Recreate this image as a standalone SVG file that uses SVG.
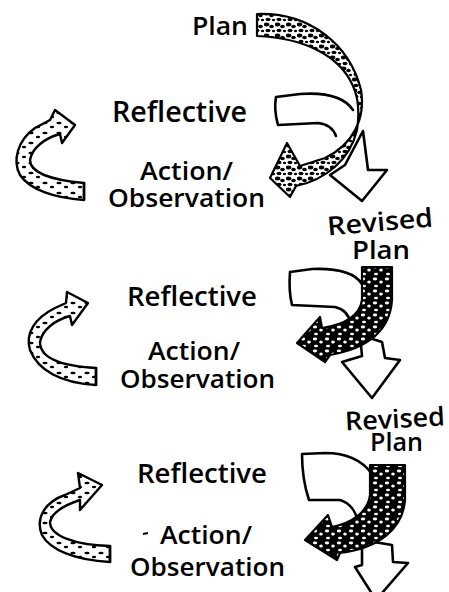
<svg xmlns="http://www.w3.org/2000/svg" width="449" height="592" viewBox="0 0 449 592">
<defs>
<pattern id="tex" patternUnits="userSpaceOnUse" width="11" height="11">
<rect width="11" height="11" fill="#fff"/>
<ellipse cx="2.5" cy="2.5" rx="2.8" ry="1.9" fill="#000"/>
<ellipse cx="7.5" cy="4.5" rx="2.3" ry="1.8" fill="#000"/>
<ellipse cx="4" cy="8.5" rx="2.5" ry="1.8" fill="#000"/>
<ellipse cx="9.5" cy="9" rx="1.6" ry="1.3" fill="#000"/>
</pattern>
<pattern id="texd" patternUnits="userSpaceOnUse" width="12" height="12">
<rect width="12" height="12" fill="#000"/>
<ellipse cx="3" cy="3" rx="2.2" ry="1.4" fill="#fff"/>
<ellipse cx="9" cy="6" rx="1.8" ry="1.6" fill="#fff"/>
<ellipse cx="4" cy="10" rx="2" ry="1.2" fill="#fff"/>
</pattern>
<pattern id="texl" patternUnits="userSpaceOnUse" width="14" height="10">
<rect width="14" height="10" fill="#fff"/>
<ellipse cx="3" cy="3" rx="2.6" ry="1.3" fill="#000"/>
<ellipse cx="10" cy="7" rx="2.2" ry="1.2" fill="#000"/>
</pattern>
<style>
.lbl{font-family:"Open Sans","DejaVu Sans",sans-serif;font-weight:600;fill:#000}
.wht{fill:#fff;stroke:#000;stroke-width:2.6;stroke-linejoin:round;stroke-linecap:round}
.open{fill:#fff;stroke:#000;stroke-width:2.6;stroke-linejoin:round;stroke-linecap:round}
.rib{fill:url(#tex);stroke:#000;stroke-width:2.2;stroke-linejoin:round}
.ribd{fill:url(#texd);stroke:#000;stroke-width:2.2;stroke-linejoin:round}
.ribl{fill:url(#texl);stroke:#000;stroke-width:2.4;stroke-linejoin:round}
</style>
</defs>

<g id="connectors">
<!-- cycle 1 -->
<path class="wht" d="M363,131 L368,170 L387,170 L362,201 L330,175 L345,165 Z"/>
<path class="open" d="M353,110 C345,98 328,92 300,94 L276,97 C274,108 276,118 278,125 L318,123 C328,124 333,128 336,136"/>
<path class="rib" d="M257,14 C310,12 350,45 361,90 C366,120 352,145 325,158 L300,166 L287,143 L270,178 L290,197 L296,186 C325,180 350,160 357,130 C360,110 358,97 353,86 C340,56 305,38 257,36 Z"/>
<path class="ribl" d="M84,200 C55,198 30,190 20,175 C12,160 18,140 35,128 L50,120 L55,110 L75,125 L62,143 L60,134 C45,138 32,148 30,160 C30,172 50,180 84,183 Z"/>
<path d="M84,182 L84,200" stroke="#000" stroke-width="2.5"/>
<!-- cycle 2 -->
<path class="wht" d="M360,335 L382,342 L385,358 L400,360 L372,398 L342,362 L362,356 Z"/>
<path class="open" d="M362,284 C355,273 338,268 312,269 L290,272 C289,285 290,297 292,305 L335,307 C345,309 349,315 351,324"/>
<path class="ribd" d="M362,267 L392,267 L392,300 C390,330 370,348 330,355 L325,362 L297,343 L320,317 L322,328 C345,325 360,315 362,300 Z"/>
<path class="ribl" d="M96,385 C60,383 38,370 30,350 C25,333 35,318 55,308 L66,303 L67,292 L88,303 L72,325 L70,316 C55,320 42,330 40,342 C40,358 60,366 96,368 Z"/>
<path d="M96,367 L96,386" stroke="#000" stroke-width="2.5"/>
<!-- cycle 3 -->
<path class="wht" d="M362,540 L392,545 L393,562 L408,563 L376,600 L355,567 L362,565 Z"/>
<path class="open" d="M372,474 C362,460 345,453 325,453 L302,454 C302,470 305,488 309,500 L340,500 C350,503 356,512 358,522"/>
<path class="ribd" d="M370,465 L405,465 L405,500 C403,528 380,548 340,553 L337,560 L305,540 L328,515 L332,527 C352,523 368,512 370,495 Z"/>
<path class="ribl" d="M110,562 C75,560 50,550 42,535 C35,518 45,502 65,495 L80,488 L78,473 L102,485 L80,510 L80,500 C65,505 52,512 50,522 C50,536 75,545 110,546 Z"/>
<path d="M110,545 L110,563" stroke="#000" stroke-width="2.5"/>
<path d="M143,534 L148,533" stroke="#000" stroke-width="1.8"/>
</g>

<g id="plan1"><text class="lbl" x="192" y="35" font-size="26" textLength="56" lengthAdjust="spacingAndGlyphs">Plan</text></g>
<g id="reflective1"><text class="lbl" x="112" y="122" font-size="28" textLength="135" lengthAdjust="spacingAndGlyphs">Reflective</text></g>
<g id="action1"><text class="lbl" font-size="26"><tspan x="140" y="180" textLength="93" lengthAdjust="spacingAndGlyphs">Action/</tspan><tspan x="108" y="207" textLength="157" lengthAdjust="spacingAndGlyphs">Observation</tspan></text></g>

<g id="revised2"><text class="lbl" font-size="26" transform="rotate(-5 380 222)"><tspan x="327" y="231" textLength="106" lengthAdjust="spacingAndGlyphs">Revised</tspan></text>
<text class="lbl" font-size="26" x="352" y="259" textLength="58" lengthAdjust="spacingAndGlyphs">Plan</text></g>
<g id="reflective2"><text class="lbl" x="127" y="306" font-size="27" textLength="130" lengthAdjust="spacingAndGlyphs">Reflective</text></g>
<g id="action2"><text class="lbl" font-size="26"><tspan x="148" y="360" textLength="92" lengthAdjust="spacingAndGlyphs">Action/</tspan><tspan x="120" y="388" textLength="155" lengthAdjust="spacingAndGlyphs">Observation</tspan></text></g>

<g id="revised3"><text class="lbl" font-size="26" transform="rotate(-3 395 420)"><tspan x="345" y="428" textLength="100" lengthAdjust="spacingAndGlyphs">Revised</tspan></text>
<text class="lbl" x="370" y="451" font-size="25" textLength="53" lengthAdjust="spacingAndGlyphs">Plan</text></g>
<g id="reflective3"><text class="lbl" x="137" y="483" font-size="27" textLength="130" lengthAdjust="spacingAndGlyphs">Reflective</text></g>
<g id="action3"><text class="lbl" font-size="26"><tspan x="160" y="544" textLength="92" lengthAdjust="spacingAndGlyphs">Action/</tspan><tspan x="130" y="576" textLength="155" lengthAdjust="spacingAndGlyphs">Observation</tspan></text></g>
</svg>
